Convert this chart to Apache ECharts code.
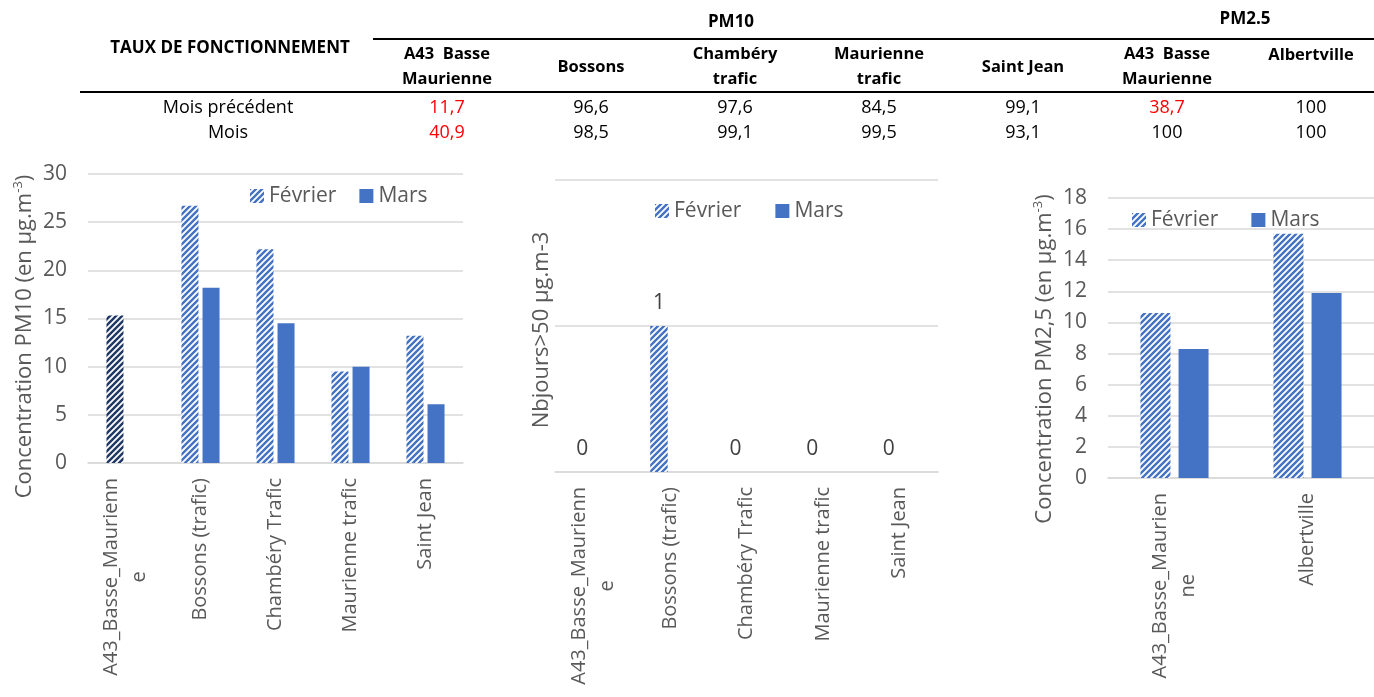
<!DOCTYPE html>
<html>
<head>
<meta charset="utf-8">
<script src="https://cdn.jsdelivr.net/npm/echarts@6/dist/echarts.min.js"></script>
<style>
html,body{margin:0;padding:0;background:#fff;}
#main{width:1374px;height:697px;}
</style>
</head>
<body>
<div id="main"></div>
<script>
// ---------- DATA ----------
const tableTitle = 'TAUX DE FONCTIONNEMENT';
const groupLabels = ['PM10', 'PM2.5'];
const tableStations = ['A43  Basse\nMaurienne', 'Bossons', 'Chambéry\ntrafic', 'Maurienne\ntrafic', 'Saint Jean', 'A43  Basse\nMaurienne', 'Albertville'];
const rowLabels = ['Mois précédent', 'Mois'];
const tauxPrev = [11.7, 96.6, 97.6, 84.5, 99.1, 38.7, 100];
const tauxCurr = [40.9, 98.5, 99.1, 99.5, 93.1, 100, 100];

const seriesNames = ['Février', 'Mars'];
const pm10Cats = ['A43_Basse_Maurienn\ne', 'Bossons (trafic)', 'Chambéry Trafic', 'Maurienne trafic', 'Saint Jean'];
const pm10Feb = [15.3, 26.7, 22.2, 9.5, 13.2];
const pm10Mar = [null, 18.2, 14.5, 10.0, 6.1];
const daysCats = ['A43_Basse_Maurienn\ne', 'Bossons (trafic)', 'Chambéry Trafic', 'Maurienne trafic', 'Saint Jean'];
const daysFeb = [0, 1, 0, 0, 0];
const daysMar = [0, 0, 0, 0, 0];
const pm25Cats = ['A43_Basse_Maurien\nne', 'Albertville'];
const pm25Feb = [10.6, 15.7];
const pm25Mar = [8.3, 11.9];

// ---------- STYLE ----------
const FONT = 'Open Sans';
const GREY = '#595959';
const BLUE = '#4472C4';
const NAVY = '#1F3864';
const GRIDC = '#d9d9d9';

function hatch(color) {
  const s = 6;
  const c = document.createElement('canvas');
  c.width = s; c.height = s;
  const ctx = c.getContext('2d');
  ctx.fillStyle = '#ffffff';
  ctx.fillRect(0, 0, s, s);
  ctx.strokeStyle = color;
  ctx.lineWidth = 2.4;
  ctx.beginPath();
  ctx.moveTo(-1, s + 1); ctx.lineTo(s + 1, -1);
  ctx.moveTo(-1, 1); ctx.lineTo(1, -1);
  ctx.moveTo(s - 1, s + 1); ctx.lineTo(s + 1, s - 1);
  ctx.stroke();
  return { image: c, repeat: 'repeat' };
}
const blueHatch = hatch(BLUE);
const navyHatch = hatch(NAVY);

const fmt = v => String(v).replace('.', ',');

// ---------- TABLE (graphic) ----------
const colX = [447, 591, 735, 879, 1023, 1167, 1311];
const headerY = [66.5, 67, 66.5, 66.5, 67, 66.5, 55];
const rowY = [108, 133];
const BOLD = 'bold 17px "' + FONT + '"';
const REG = '18px "' + FONT + '"';
const graphic = [];
graphic.push({ type: 'text', x: 230, y: 48, style: { text: tableTitle, font: BOLD, fill: '#000', align: 'center', verticalAlign: 'middle' } });
graphic.push({ type: 'text', x: (colX[0] + colX[4]) / 2 - 4, y: 22, style: { text: groupLabels[0], font: BOLD, fill: '#000', align: 'center', verticalAlign: 'middle' } });
graphic.push({ type: 'text', x: (colX[5] + colX[6]) / 2 + 6, y: 19, style: { text: groupLabels[1], font: BOLD, fill: '#000', align: 'center', verticalAlign: 'middle' } });
graphic.push({ type: 'line', shape: { x1: 373, y1: 39, x2: 1374, y2: 39 }, style: { stroke: '#000', lineWidth: 2 } });
graphic.push({ type: 'line', shape: { x1: 80, y1: 92, x2: 1374, y2: 92 }, style: { stroke: '#000', lineWidth: 2 } });
tableStations.forEach((s, i) => {
  graphic.push({ type: 'text', x: colX[i], y: headerY[i], style: { text: s, font: 'bold 16.5px "' + FONT + '"', lineHeight: 25, fill: '#000', align: 'center', verticalAlign: 'middle' } });
});
[tauxPrev, tauxCurr].forEach((row, r) => {
  graphic.push({ type: 'text', x: 228, y: rowY[r], style: { text: rowLabels[r], font: REG, fill: '#000', align: 'center', verticalAlign: 'middle' } });
  row.forEach((v, i) => {
    graphic.push({ type: 'text', x: colX[i], y: rowY[r], style: { text: fmt(v), font: REG, fill: v < 75 ? '#ff0000' : '#000', align: 'center', verticalAlign: 'middle' } });
  });
});

// ---------- CHARTS ----------
const xLabel = {
  interval: 0, rotate: 90, margin: 15,
  formatter: v => v.split('\n').map(l => '{c|' + l + '}').join('\n'),
  rich: { c: { align: 'center', fontSize: 20, lineHeight: 28, color: GREY, fontFamily: FONT } }
};
const richName = {
  t: { fontSize: 22, lineHeight: 26, color: GREY, fontFamily: FONT },
  s: { fontSize: 13, lineHeight: 13, verticalAlign: 'top', color: GREY, fontFamily: FONT }
};
function catAxis(idx, data) {
  return {
    type: 'category', gridIndex: idx, data: data,
    axisTick: { show: false },
    axisLine: { lineStyle: { color: GRIDC, width: 1.5 } },
    axisLabel: xLabel
  };
}
function valAxis(idx, max, interval, name, gap, pad, showLabels) {
  return {
    type: 'value', gridIndex: idx, min: 0, max: max, interval: interval,
    name: name, nameLocation: 'middle', nameRotate: 90, nameGap: gap,
    nameTextStyle: { padding: [0, pad, 0, 0], fontSize: 22, color: GREY, fontFamily: FONT, rich: richName },
    axisLine: { show: false }, axisTick: { show: false },
    axisLabel: { show: showLabels, fontSize: 21, color: GREY, margin: 21, fontFamily: FONT },
    splitLine: { lineStyle: { color: GRIDC, width: 1.5 } }
  };
}
function legend(left, top, gap) {
  return {
    show: true, left: left, top: top, itemWidth: 14, itemHeight: 14, itemGap: gap, padding: 0,
    icon: 'rect',
    data: seriesNames.map(n => ({ name: n })),
    textStyle: { fontSize: 21, color: GREY, fontFamily: FONT, lineHeight: 22 },
    itemStyle: { borderWidth: 0 },
    selectedMode: false
  };
}

const option = {
  animation: false,
  backgroundColor: '#ffffff',
  textStyle: { fontFamily: FONT },
  graphic: graphic,
  grid: [
    { left: 88, top: 174, width: 375, height: 289 },
    { left: 555, top: 180, width: 383, height: 292 },
    { left: 1108, top: 198, width: 268, height: 280 }
  ],
  xAxis: [catAxis(0, pm10Cats), catAxis(1, daysCats), catAxis(2, pm25Cats)],
  yAxis: [
    valAxis(0, 30, 5, '{t|Concentration PM10 (en µg.m}{s|-3}{t|)}', 50, 36, true),
    valAxis(1, 2, 1, 'Nbjours>50 µg.m-3', 2, 8, false),
    valAxis(2, 18, 2, '{t|Concentration PM2,5 (en µg.m}{s|-3}{t|)}', 50, 42, true)
  ],
  legend: [legend(250, 185, 23), legend(655, 200, 34), legend(1132, 209, 33)],
  series: [
    { name: seriesNames[0], type: 'bar', xAxisIndex: 0, yAxisIndex: 0, barWidth: 17, barGap: '24%',
      itemStyle: { color: blueHatch },
      data: pm10Feb.map((v, i) => i === 0 ? { value: v, itemStyle: { color: navyHatch } } : v) },
    { name: seriesNames[1], type: 'bar', xAxisIndex: 0, yAxisIndex: 0, barWidth: 17, barGap: '24%',
      itemStyle: { color: BLUE }, data: pm10Mar },
    { name: seriesNames[0], type: 'bar', xAxisIndex: 1, yAxisIndex: 1, barWidth: 17.5, barGap: '25%',
      itemStyle: { color: blueHatch },
      label: { show: true, position: 'top', distance: 12, fontSize: 21, color: '#404040', fontFamily: FONT },
      data: daysFeb },
    { name: seriesNames[1], type: 'bar', xAxisIndex: 1, yAxisIndex: 1, barWidth: 17.5, barGap: '25%',
      itemStyle: { color: BLUE }, data: daysMar },
    { name: seriesNames[0], type: 'bar', xAxisIndex: 2, yAxisIndex: 2, barWidth: 30, barGap: '27%',
      itemStyle: { color: blueHatch }, data: pm25Feb },
    { name: seriesNames[1], type: 'bar', xAxisIndex: 2, yAxisIndex: 2, barWidth: 30, barGap: '27%',
      itemStyle: { color: BLUE }, data: pm25Mar }
  ]
};
const chart = echarts.init(document.getElementById('main'), null, { renderer: 'canvas' });
chart.setOption(option);
</script>
</body>
</html>
